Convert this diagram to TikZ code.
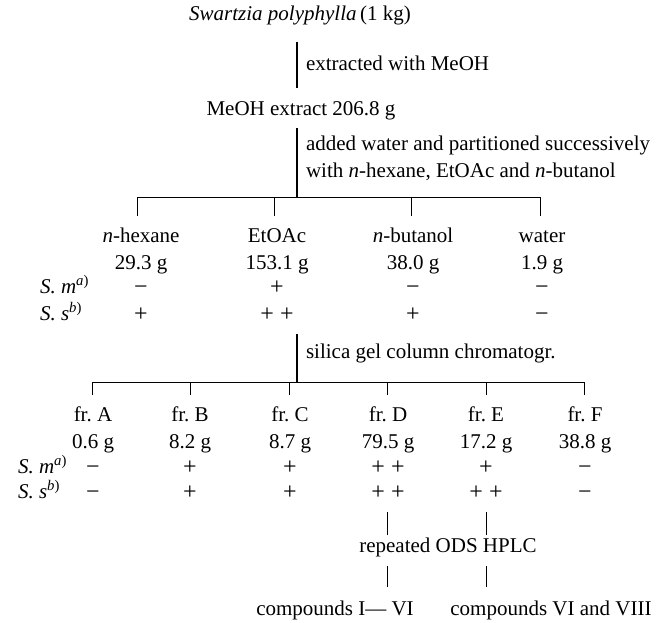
\documentclass[tikz,border=0pt]{standalone}
\usepackage{fontspec}
\setmainfont{Liberation Serif}
\begin{document}
\begin{tikzpicture}[x=1pt,y=-1pt,
  every node/.style={inner sep=0pt,outer sep=0pt,font=\fontsize{21}{27}\selectfont},
  txt/.style={anchor=base},
  ltxt/.style={anchor=base west},
  sym/.style={anchor=base,font=\fontsize{24}{26}\selectfont},
  trunk/.style={line width=1.3pt},
  branch/.style={line width=0.9pt}]
\useasboundingbox (0,0) rectangle (669,623);

% top part
\node[txt] (src) at (300,21) {\textit{Swartzia polyphylla}\,(1 kg)};
\node[ltxt] (ext) at (306,71) {extracted with MeOH};
\node[txt] (meoh) at (301,116) {MeOH extract 206.8 g};
\node[ltxt] (partA) at (306,150) {added water and partitioned successively};
\node[ltxt] (partB) at (306,177) {with \textit{n}-hexane, EtOAc and \textit{n}-butanol};

\coordinate (j1a) at (297,42);  \coordinate (j1b) at (297,88);
\coordinate (j2a) at (297,128); \coordinate (j2b) at (297,197);
\draw[trunk] (j1a) -- (j1b);
\draw[trunk] (j2a) -- (j2b);
\coordinate (barL) at (137,197); \coordinate (barR) at (540,197);
\draw[branch] (barL) -- (barR);

% partition table
\node[ltxt] (smA) at (40,293) {\textit{S. m}\textsuperscript{\textit{a})}};
\node[ltxt] (ssA) at (40,320) {\textit{S. s}\textsuperscript{\textit{b})}};
\foreach \n/\x/\t/\lab/\m/\a/\b in {
  hex/141/137/{\textit{n}-hexane}/{29.3 g}/{−}/{+},
  eto/277/274/{EtOAc}/{153.1 g}/{+}/{+ +},
  but/413/411/{\textit{n}-butanol}/{38.0 g}/{−}/{+},
  wat/542/540/{water}/{1.9 g}/{−}/{−}}{
  \coordinate (\n-t) at (\t,197);
  \coordinate (\n-b) at (\t,216);
  \draw[branch] (\n-t) -- (\n-b);
  \node[txt] (\n-name) at (\x,242) {\lab};
  \node[txt] (\n-mass) at (\x,269) {\m};
  \node[sym] (\n-sm) at (\x,294) {\a};
  \node[sym] (\n-ss) at (\x,321) {\b};
}

% column chromatography
\coordinate (j3a) at (297,334); \coordinate (j3b) at (297,382);
\draw[trunk] (j3a) -- (j3b);
\node[ltxt] (silica) at (306,358) {silica gel column chromatogr.};
\coordinate (bar2L) at (92,382); \coordinate (bar2R) at (584,382);
\draw[branch] (bar2L) -- (bar2R);

\node[ltxt] (smB) at (18,473) {\textit{S. m}\textsuperscript{\textit{a})}};
\node[ltxt] (ssB) at (18,498) {\textit{S. s}\textsuperscript{\textit{b})}};
\foreach \n/\x/\t/\lab/\m/\a/\b in {
  frA/93/92/{fr.~A}/{0.6 g}/{−}/{−},
  frB/190/190/{fr.~B}/{8.2 g}/{+}/{+},
  frC/290/289/{fr.~C}/{8.7 g}/{+}/{+},
  frD/388/387/{fr.~D}/{79.5 g}/{+ +}/{+ +},
  frE/486/486/{fr.~E}/{17.2 g}/{+}/{+ +},
  frF/585/584/{fr.~F}/{38.8 g}/{−}/{−}}{
  \coordinate (\n-t) at (\t,382);
  \coordinate (\n-b) at (\t,395);
  \draw[branch] (\n-t) -- (\n-b);
  \node[txt] (\n-name) at (\x,421) {\lab};
  \node[txt] (\n-mass) at (\x,448) {\m};
  \node[sym] (\n-sm) at (\x,474) {\a};
  \node[sym] (\n-ss) at (\x,499) {\b};
}

% HPLC
\coordinate (dA) at (387,512); \coordinate (dB) at (387,535);
\coordinate (eA) at (486,512); \coordinate (eB) at (486,535);
\coordinate (dC) at (387,566); \coordinate (dD) at (387,587);
\coordinate (eC) at (486,566); \coordinate (eD) at (486,587);
\draw[branch] (dA) -- (dB);
\draw[branch] (eA) -- (eB);
\draw[branch] (dC) -- (dD);
\draw[branch] (eC) -- (eD);
\node[txt] (hplc) at (448,552) {repeated ODS HPLC};
\node[txt] (cmpA) at (335,615) {compounds I— VI};
\node[txt] (cmpB) at (551,615) {compounds VI and VIII};
\end{tikzpicture}
\end{document}
